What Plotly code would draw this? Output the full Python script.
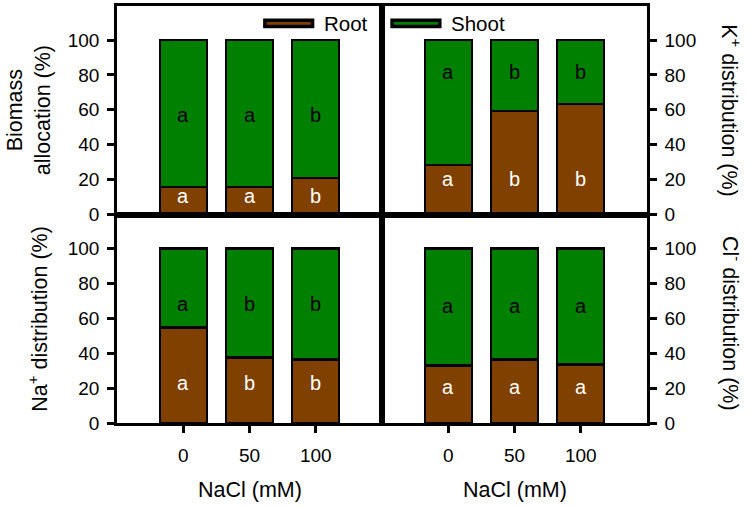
import plotly.graph_objects as go
from plotly.subplots import make_subplots

categories = ["0", "50", "100"]

biomass_root = [15.5, 16.0, 21.0]
k_root = [28.5, 59.5, 63.5]
na_root = [55.0, 37.5, 36.5]
cl_root = [33.0, 36.5, 33.5]

biomass_shoot = [100 - v for v in biomass_root]
k_shoot = [100 - v for v in k_root]
na_shoot = [100 - v for v in na_root]
cl_shoot = [100 - v for v in cl_root]

biomass_root_letters = ["a", "a", "b"]
biomass_shoot_letters = ["a", "a", "b"]
k_root_letters = ["a", "b", "b"]
k_shoot_letters = ["a", "b", "b"]
na_root_letters = ["a", "b", "b"]
na_shoot_letters = ["a", "b", "b"]
cl_root_letters = ["a", "a", "a"]
cl_shoot_letters = ["a", "a", "a"]

ytick_vals = [0, 20, 40, 60, 80, 100]

ROOT_COLOR = "#804000"
SHOOT_COLOR = "#008000"
FONT = "Liberation Sans, Arial, sans-serif"
FS = 19      # tick labels
FL = 20      # letters in bars
FT = 21.5    # axis titles
FLEG = 20.5  # legend

fig = make_subplots(rows=2, cols=2, horizontal_spacing=0, vertical_spacing=0)

panels = [
    (1, 1, biomass_root, biomass_shoot, biomass_root_letters, biomass_shoot_letters, 8.5, 55.0),
    (1, 2, k_root, k_shoot, k_root_letters, k_shoot_letters, 18.0, 79.5),
    (2, 1, na_root, na_shoot, na_root_letters, na_shoot_letters, 20.5, 66.0),
    (2, 2, cl_root, cl_shoot, cl_root_letters, cl_shoot_letters, 18.5, 64.5),
]

xpos = list(range(len(categories)))

for r, c, root, shoot, rl, sl, ry, sy in panels:
    fig.add_trace(go.Bar(x=xpos, y=root, name="Root", width=0.71,
                         marker=dict(color=ROOT_COLOR, line=dict(color="black", width=2.5)),
                         showlegend=False), row=r, col=c)
    fig.add_trace(go.Bar(x=xpos, y=shoot, name="Shoot", width=0.71,
                         marker=dict(color=SHOOT_COLOR, line=dict(color="black", width=2.5)),
                         showlegend=False), row=r, col=c)
    idx = (r - 1) * 2 + c
    xr = "x" if idx == 1 else f"x{idx}"
    yr = "y" if idx == 1 else f"y{idx}"
    for i in range(len(categories)):
        fig.add_annotation(x=xpos[i], y=ry, xref=xr, yref=yr, text=rl[i], showarrow=False,
                           xanchor="center", yanchor="middle", yshift=4,
                           font=dict(family=FONT, size=FL, color="white"))
        fig.add_annotation(x=xpos[i], y=sy, xref=xr, yref=yr, text=sl[i], showarrow=False,
                           xanchor="center", yanchor="middle", yshift=4,
                           font=dict(family=FONT, size=FL, color="black"))

fig.update_layout(barmode="stack", bargap=0)

for r in (1, 2):
    for c in (1, 2):
        fig.update_xaxes(range=[-1, 3], showline=True, linecolor="black", linewidth=2.5,
                         mirror=True, showgrid=False, zeroline=False,
                         tickvals=xpos, ticktext=categories,
                         ticks="outside" if r == 2 else "", ticklen=7, tickwidth=2.5,
                         tickcolor="black", showticklabels=(r == 2),
                         tickfont=dict(family=FONT, size=FS, color="black"),
                         ticklabelstandoff=6,
                         row=r, col=c)
        fig.update_yaxes(range=[0, 119.5], showline=True, linecolor="black", linewidth=2.5,
                         mirror=True, showgrid=False, zeroline=False,
                         tickvals=ytick_vals, ticks="outside", ticklen=7, tickwidth=2.5,
                         tickcolor="black", side="left" if c == 1 else "right",
                         tickfont=dict(family=FONT, size=FS, color="black"),
                         ticklabelstandoff=4,
                         row=r, col=c)

# axis titles
title_font = dict(family=FONT, size=FT, color="black")
fig.add_annotation(xref="paper", yref="paper", x=0, y=0.75, xshift=-88,
                   xanchor="center", yanchor="middle",
                   text="Biomass<br>allocation (%)", textangle=-90, showarrow=False,
                   font=title_font)
fig.add_annotation(xref="paper", yref="paper", x=0, y=0.25, xshift=-79,
                   xanchor="center", yanchor="middle",
                   text="Na<sup>+</sup> distribution (%)", textangle=-90, showarrow=False,
                   font=title_font)
fig.add_annotation(xref="paper", yref="paper", x=1, y=0.75, xshift=84,
                   xanchor="center", yanchor="middle",
                   text="K<sup>+</sup> distribution (%)", textangle=90, showarrow=False,
                   font=title_font)
fig.add_annotation(xref="paper", yref="paper", x=1, y=0.24, xshift=85,
                   xanchor="center", yanchor="middle",
                   text="Cl<sup>-</sup> distribution (%)", textangle=90, showarrow=False,
                   font=title_font)
for xr in ("x3", "x4"):
    fig.add_annotation(xref=xr, yref="paper", x=1, y=0, yshift=-67,
                       xanchor="center", yanchor="middle",
                       text="NaCl (mM)", showarrow=False, font=title_font)

# legend (swatches + labels)
legend_items = [("Root", ROOT_COLOR, 0.279), ("Shoot", SHOOT_COLOR, 0.519)]
for name, color, x0 in legend_items:
    fig.add_shape(type="rect", xref="paper", yref="paper", x0=x0, x1=x0 + 0.09,
                  y0=0.951, y1=0.966, fillcolor=color, line=dict(color="black", width=3.5))
    fig.add_annotation(xref="paper", yref="paper", x=x0 + 0.09, y=0.9585, xshift=9,
                       xanchor="left", yanchor="middle", text=name, showarrow=False,
                       font=dict(family=FONT, size=FLEG, color="black"))

fig.update_layout(width=749, height=506, margin=dict(l=117, r=102, t=3, b=83),
                  plot_bgcolor="white", paper_bgcolor="white", showlegend=False)

fig.write_html("out.html", config={"displayModeBar": False},
               post_script="document.body.style.margin='0';document.body.style.overflow='hidden';")
